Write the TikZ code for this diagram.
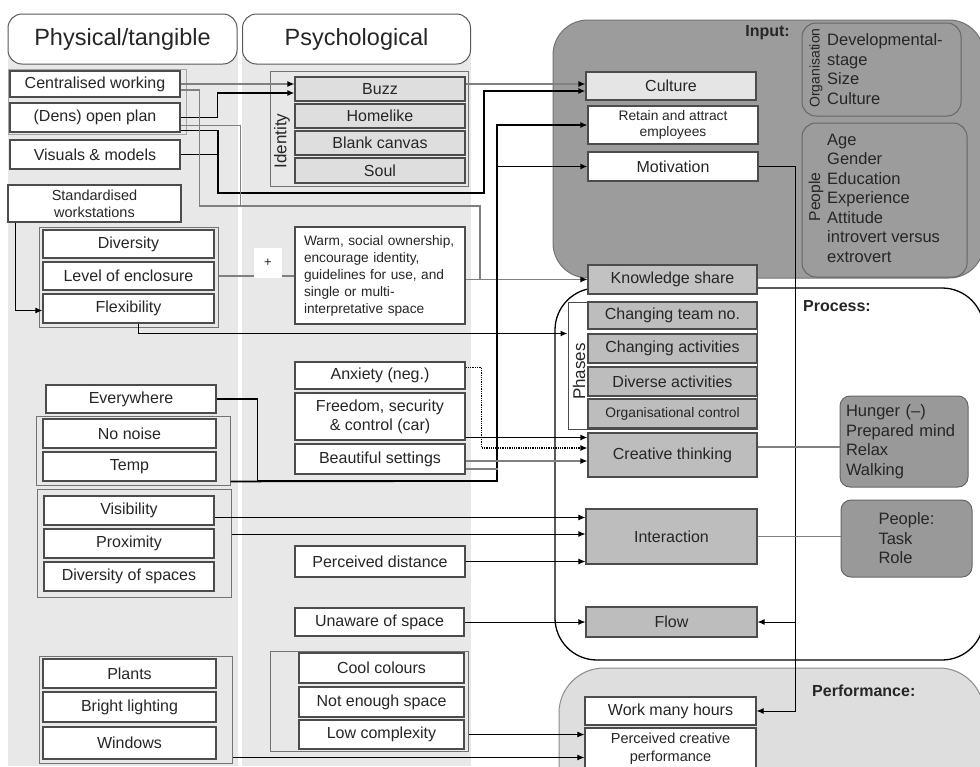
\documentclass[tikz,border=0pt]{standalone}
\usepackage{fontspec}
\setmainfont{Liberation Sans}
\usetikzlibrary{arrows.meta}

\tikzset{
  colbg/.style={fill=black!9, draw=none},
  head/.style={draw=black!65, line width=1pt, fill=white, rounded corners=14pt, inner sep=0pt, text=black!85, font=\fontsize{23.5}{26}\selectfont},
  wbox/.style={draw=black!70, line width=1.1pt, fill=white, inner sep=0pt, align=center, text=black!85, font=\fontsize{16}{19}\selectfont},
  lgbox/.style={wbox, fill=black!13},
  mgbox/.style={wbox, fill=black!26},
  dgbox/.style={draw=black!60, line width=1pt, fill=black!40, rounded corners=10pt, text=black!85},
  smalltxt/.style={font=\fontsize{13.8}{16.5}\selectfont},
  grp/.style={draw=black!55, line width=1pt, inner sep=0pt},
  sz/.style 2 args={minimum width=#1, minimum height=#2},
  bline/.style={line width=1.6pt, black},
  gline/.style={line width=1.3pt, black!50},
  tline/.style={line width=1pt, black},
  dline/.style={line width=1.3pt, black, densely dotted},
  arr/.style={-{Latex[length=7pt,width=6pt,color=black]}},
  sidelbl/.style={rotate=90, inner sep=0pt, text=black!85},
  stagelbl/.style={inner sep=0pt, text=black!85, font=\bfseries\fontsize{16}{19}\selectfont},
  itemlist/.style={align=left, inner sep=0pt, text=black!85, font=\fontsize{16.5}{19.5}\selectfont},
}

\begin{document}
\begin{tikzpicture}[x=1pt, y=-1pt]
\useasboundingbox (0,0) rectangle (980,766);
\clip (0,0) rectangle (980,766);
\fill[white] (0,0) rectangle (980,766);

% columns
\fill[colbg] (8,40) rectangle (238,766);
\fill[colbg] (242,40) rectangle (471,766);
\node[head, sz={229}{50}] (hphys) at (122.5,39) {Physical/tangible};
\node[head, sz={228}{50}] (hpsy) at (356.5,39) {Psychological};

% input, process and performance panels
\draw[fill=black!39, draw=black!55, line width=1pt, rounded corners=35pt] (553,20) rectangle (984,278);
\draw[fill=white, draw=black, line width=1.3pt, rounded corners=42pt] (555,288) rectangle (984,660);
\draw[fill=black!13, draw=black!45, line width=1pt, rounded corners=45pt] (559,668) rectangle (984,810);
\node[stagelbl, anchor=east] (inl) at (790,33) {Input:};
\node[stagelbl, anchor=west] (procl) at (803,306) {Process:};
\node[stagelbl, anchor=west] (perfl) at (812,691) {Performance:};

% group frames
\node[grp, draw=black!35, sz={178}{65}] (grp0) at (97,101.5) {};
\node[grp, sz={179}{100}] (grpA) at (128.5,277) {};
\node[grp, sz={194}{69}] (grpB) at (133,450.5) {};
\node[grp, sz={194}{108}] (grpC) at (134,543) {};
\node[grp, sz={193}{107}] (grpD) at (135.5,709.5) {};
\node[grp, sz={198}{115}] (ident) at (369,128.5) {};
\node[grp, sz={198}{100}] (grpE) at (369,701) {};
\node[grp, fill=white, draw=black!70, sz={189}{127}] (phases) at (662.5,365.5) {};
\node[grp, draw=black!60, rounded corners=14pt, sz={159}{93}] (org) at (881.5,69.5) {};
\node[grp, draw=black!60, rounded corners=14pt, sz={165}{154}] (pplbox) at (884.5,200) {};

% physical
\node[wbox, sz={170}{26}] (cent) at (95,84) {Centralised working};
\node[wbox, sz={170}{29}] (dens) at (95,117.5) {(Dens) open plan};
\node[wbox, sz={170}{29}] (vis) at (95,154.5) {Visuals \& models};
\node[wbox, font=\fontsize{14.5}{17}\selectfont, sz={173}{37}] (stand) at (94.5,203.5) {Standardised\\workstations};
\node[wbox, sz={171}{28}] (div) at (128.5,244) {Diversity};
\node[wbox, sz={171}{28}] (encl) at (128.5,276) {Level of enclosure};
\node[wbox, sz={171}{29}] (flex) at (128.5,308.5) {Flexibility};
\node[wbox, sz={170}{28}] (every) at (131,399) {Everywhere};
\node[wbox, sz={173}{29}] (noise) at (129.5,433.5) {No noise};
\node[wbox, sz={173}{29}] (temp) at (129.5,466.5) {Temp};
\node[wbox, sz={170}{29}] (visib) at (129,510.5) {Visibility};
\node[wbox, sz={170}{29}] (prox) at (129,543.5) {Proximity};
\node[wbox, sz={170}{29}] (divsp) at (129,576.5) {Diversity of spaces};
\node[wbox, sz={173}{29}] (plants) at (129.5,673.5) {Plants};
\node[wbox, sz={173}{30}] (light) at (129.5,707) {Bright lighting};
\node[wbox, sz={173}{32}] (windows) at (129.5,743) {Windows};

% psychological
\node[lgbox, sz={170}{24}] (buzz) at (380,89) {Buzz};
\node[lgbox, sz={170}{24}] (home) at (380,116) {Homelike};
\node[lgbox, sz={170}{24}] (blank) at (380,143) {Blank canvas};
\node[lgbox, sz={170}{25}] (soul) at (380,170.5) {Soul};
\node[sidelbl, font=\fontsize{17}{20}\selectfont] (identl) at (282,141) {Identity};
\node[wbox, sz={170}{97}, align=left, text width=152pt, font=\fontsize{13.7}{17}\selectfont] (warm) at (380,275.5) {Warm, social ownership,\\encourage identity,\\guidelines for use, and\\single or multi-\\interpretative space};
\node[wbox, sz={170}{27}] (anx) at (380,375.5) {Anxiety (neg.)};
\node[wbox, sz={170}{47}] (free) at (380,416.5) {Freedom, security\\\& control (car)};
\node[wbox, sz={170}{30}] (beaut) at (380,459) {Beautiful settings};
\node[wbox, sz={170}{31}] (percd) at (380,561.5) {Perceived distance};
\node[wbox, sz={169}{28}] (unaware) at (379.5,622) {Unaware of space};
\node[wbox, sz={165}{30}] (cool) at (381.5,668) {Cool colours};
\node[wbox, sz={165}{30}] (notenough) at (381.5,702) {Not enough space};
\node[wbox, sz={165}{29}] (lowc) at (381.5,734.5) {Low complexity};

% input
\node[wbox, fill=black!10, sz={170}{28}] (culture) at (671,86) {Culture};
\node[wbox, smalltxt, sz={170}{38}] (retain) at (673,125) {Retain and attract\\employees};
\node[wbox, sz={170}{29}] (motiv) at (673,166.5) {Motivation};
\node[sidelbl, font=\fontsize{14}{16}\selectfont] (orgl) at (816,68) {Organisation};
\node[itemlist, anchor=west] (orgitems) at (827,69) {Developmental-\\stage\\Size\\Culture};
\node[sidelbl, font=\fontsize{15.7}{18}\selectfont] (ppll) at (816,197) {People};
\node[itemlist, anchor=west] (pplitems) at (827,198) {Age\\Gender\\Education\\Experience\\Attitude\\introvert versus\\extrovert};

% process
\node[mgbox, fill=black!24, sz={169}{29}] (know) at (672.5,279.5) {Knowledge share};
\node[mgbox, sz={169}{27}] (team) at (672.5,315.5) {Changing team no.};
\node[mgbox, sz={169}{29}] (chact) at (672.5,348.5) {Changing activities};
\node[mgbox, sz={169}{29}] (divact) at (672.5,381.5) {Diverse activities};
\node[mgbox, smalltxt, sz={169}{29}] (orgc) at (672.5,413.5) {Organisational control};
\node[sidelbl, font=\fontsize{17}{20}\selectfont] (phasel) at (579,371.5) {Phases};
\node[mgbox, sz={169}{44}] (creat) at (672.5,455) {Creative thinking};
\node[mgbox, sz={171}{55}] (inter) at (671.5,536.5) {Interaction};
\node[mgbox, sz={171}{30}] (flow) at (671.5,622) {Flow};
\node[dgbox, itemlist, text width=116pt, inner xsep=6pt, minimum height=91] (hunger) at (904,441.5) {Hunger (--)\\Prepared mind\\Relax\\Walking};
\node[dgbox, itemlist, sz={131}{77}] (ppl) at (906.5,538.5) {People:\\Task\\Role};

% performance
\node[wbox, sz={171}{28}] (work) at (670.5,711) {Work many hours};
\node[wbox, font=\fontsize{14.5}{18}\selectfont, sz={171}{42}] (perc) at (670.5,749) {Perceived creative\\performance};

% connectors
\draw[gline,arr] (cent.east) -- (cent.east -| buzz.west);
\draw[gline,arr] (cent.east -| buzz.east) -- (cent.east -| culture.west);
\draw[bline,arr] (dens.east) -- ++(37,0) |- ([yshift=-4pt]buzz.west);

\coordinate (dj) at (218,193);
\coordinate (cj) at (484,193);
\draw[bline,arr] ([yshift=-13pt]dens.east) -| (dj) -- (cj) |- ([yshift=-5pt]culture.west);
\draw[bline] (vis.east) -- (vis.east -| dj);

\coordinate (gj) at (480,206);
\draw[gline] ([yshift=-6pt]cent.east) -- ++(19,0) |- (gj) -- (gj |- know.west);
\draw[gline] ([yshift=-8pt]dens.east) -- ++(60,0) |- (gj);
\draw[gline] (encl.east -| grpA.east) -- (encl.east -| warm.west);
\draw[gline,arr] (warm.east |- know.west) -- (know.west);
\node[fill=white, inner sep=0pt, sz={28}{30}, text=black!85, font=\fontsize{13}{15}\selectfont] (plus) at (268,263) {+};

\draw[bline,arr] ([xshift=8pt]stand.south west) |- ([yshift=-2pt]flex.west);
\draw[bline,arr] ([xshift=10pt]flex.south) |- ([yshift=32pt]phases.west);

\coordinate (ej) at (497,481);
\draw[bline] (every.east) -- ++(41,0) |- (ej);
\draw[bline,arr] ([yshift=4pt]grpB.south east) -- (ej) |- (retain.west);
\draw[bline,arr] (ej |- motiv.west) -- (motiv.west);
\draw[gline] ([yshift=-10pt]beaut.east) -- ++(32,0);

\draw[dline,arr] ([yshift=8pt]anx.east) -- ++(16,0) |- ([yshift=7pt]creat.west);
\coordinate (fr) at ([yshift=-21pt]free.east);
\draw[bline,arr] (fr) -- (fr -| creat.west);
\coordinate (bs) at ([yshift=-2pt]beaut.east);
\draw[gline,arr] (bs) -- (bs -| creat.west);

\coordinate (vi) at ([yshift=-7pt]visib.east);
\draw[tline,arr] (vi) -- (vi -| inter.west);
\coordinate (px) at ([yshift=9pt]grpC.east);
\draw[tline,arr] (px) -- (px -| inter.west);
\draw[tline,arr] (percd.east) -- (percd.east -| inter.west);
\draw[tline,arr] (unaware.east) -- (unaware.east -| flow.west);

\coordinate (mv) at ([xshift=37pt]motiv.east);
\draw[tline,arr] (motiv.east) -- (mv) |- (work.east);
\draw[tline,arr] (mv |- flow.east) -- (flow.east);

\coordinate (ch) at ([yshift=8pt]creat.east);
\draw[gline] (ch) -- (ch -| hunger.west);
\draw[gline] (inter.east) -- (inter.east -| ppl.west);

\coordinate (lc) at (lowc.east -| grpE.east);
\draw[tline,arr] (lc) -- (lc -| perc.west);
\coordinate (wi) at ([yshift=6pt]grpD.south east);
\draw[tline,arr] (wi) -- (wi -| perc.west);

\end{tikzpicture}
\end{document}
